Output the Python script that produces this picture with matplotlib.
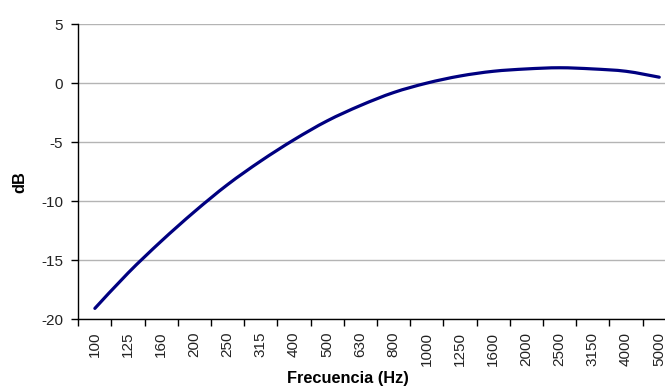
import numpy as np
import matplotlib.pyplot as plt
from matplotlib.path import Path
from matplotlib.patches import PathPatch

plt.rcParams['font.family'] = ['Liberation Sans', 'DejaVu Sans']
plt.rcParams['axes.unicode_minus'] = False

# ponderación A por bandas de tercio de octava
frecuencias = ['100', '125', '160', '200', '250', '315', '400', '500', '630',
               '800', '1000', '1250', '1600', '2000', '2500', '3150', '4000', '5000']
ponderacion_db = [-19.1, -16.1, -13.4, -10.9, -8.6, -6.6, -4.8, -3.2, -1.9,
                  -0.8, 0.0, 0.6, 1.0, 1.2, 1.3, 1.2, 1.0, 0.5]

fig = plt.figure(figsize=(6.65, 3.87), dpi=100)
ax = fig.add_axes([0.1177, 0.1757, 0.8986, 0.762])

# línea suavizada: tramos Bézier cúbicos que pasan por cada punto
pts = np.column_stack([np.arange(len(frecuencias)), ponderacion_db]).astype(float)
ext = np.vstack([pts[:1], pts, pts[-1:]])
verts = [tuple(pts[0])]
codes = [Path.MOVETO]
for i in range(len(pts) - 1):
    p0, p1, p2, p3 = ext[i], ext[i + 1], ext[i + 2], ext[i + 3]
    verts += [tuple(p1 + (p2 - p0) / 6), tuple(p2 - (p3 - p1) / 6), tuple(p2)]
    codes += [Path.CURVE4] * 3
ax.add_patch(PathPatch(Path(verts, codes), facecolor='none', edgecolor='#000080',
                       linewidth=2.3, capstyle='round', joinstyle='round'))

ax.set_xlim(-0.5, len(frecuencias) - 0.5)
ax.set_ylim(-20, 5)
ax.set_yticks(range(-20, 6, 5))
ax.yaxis.grid(True, color='#b4b4b4', linewidth=1.0)
ax.set_axisbelow(True)

# marcas entre categorías, etiquetas centradas en cada banda
ax.set_xticks(np.arange(-0.5, len(frecuencias) - 0.5 + 0.01, 1.0))
ax.set_xticklabels([])
ax.set_xticks(np.arange(len(frecuencias)), minor=True)
ax.set_xticklabels(frecuencias, minor=True, rotation=90, va='top', fontsize=11,
                   color='#222222')
ax.tick_params(axis='x', which='major', length=5, width=1, direction='out')
ax.tick_params(axis='x', which='minor', length=0, pad=9)
ax.tick_params(axis='y', length=5, width=1, direction='out', pad=6, labelsize=11,
               labelcolor='#222222')

for s in ['top', 'right']:
    ax.spines[s].set_visible(False)
for s in ['left', 'bottom']:
    ax.spines[s].set_linewidth(1.0)
    ax.spines[s].set_color('black')

fig.text(348 / 665, 1 - 379 / 387, 'Frecuencia (Hz)', ha='center', va='center',
         fontsize=11.8, fontweight='bold')
fig.text(20 / 665, 1 - 182 / 387, 'dB', ha='center', va='center', rotation=90,
         fontsize=11.8, fontweight='bold')

fig.savefig('out.png', dpi=100)
